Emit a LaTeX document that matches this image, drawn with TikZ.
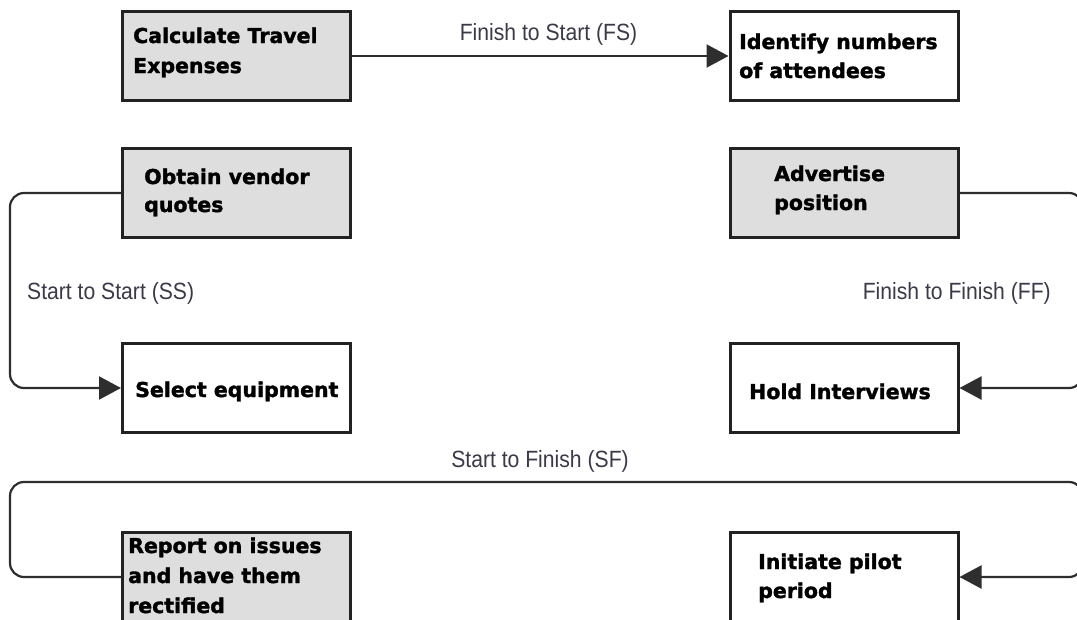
\documentclass[tikz,border=0pt]{standalone}
\usepackage{fontspec}
\usetikzlibrary{arrows.meta}
\newfontfamily\boxfont{DejaVu Sans}[BoldFeatures={FakeBold=1.6}]
\newfontfamily\linkfont{Liberation Sans}[FakeStretch=0.9]
\definecolor{boxgray}{HTML}{DEDEDE}
\definecolor{edge}{HTML}{222222}
\definecolor{wire}{HTML}{2E2E2E}
\definecolor{linktext}{HTML}{3A3A48}
\begin{document}
\begin{tikzpicture}[x=1pt,y=-1pt,
  taskbox/.style={draw=edge, line width=3pt, minimum width=228pt, minimum height=89pt, inner sep=0pt},
  shaded/.style={taskbox, fill=boxgray},
  plain/.style={taskbox, fill=white},
  tasktext/.style={anchor=base west, inner sep=0pt, text=black, font=\boxfont\bfseries\fontsize{20.5}{24}\selectfont},
  linklabel/.style={inner sep=0pt, text=linktext, font=\linkfont\fontsize{23.5}{26}\selectfont},
  wire/.style={draw=wire, line width=2.2pt, rounded corners=14pt},
  tip/.style={-{Triangle[length=22pt,width=23pt]}}
]
\useasboundingbox (0,0) rectangle (1077,619);
\clip (0,0) rectangle (1077,619);
\fill[white] (0,0) rectangle (1077,619);

% task boxes
\node[shaded] (calc)   at (236.5,56)  {};
\node[plain]  (ident)  at (844,56)    {};
\node[shaded] (obtain) at (236.5,193) {};
\node[shaded] (advert) at (844,193)   {};
\node[plain]  (select) at (236.5,388) {};
\node[plain]  (hold)   at (844,388)   {};
\node[shaded] (report) at (236.5,577) {};
\node[plain]  (pilot)  at (844,577)   {};

% task names
\node[tasktext] (calcA)   at (133,43)  {Calculate Travel};
\node[tasktext] (calcB)   at (133,73)  {Expenses};
\node[tasktext] (identA)  at (739,49)  {Identify numbers};
\node[tasktext] (identB)  at (739,78)  {of attendees};
\node[tasktext] (obtainA) at (144,184) {Obtain vendor};
\node[tasktext] (obtainB) at (144,212) {quotes};
\node[tasktext] (advertA) at (774,181) {Advertise};
\node[tasktext] (advertB) at (774,210) {position};
\node[tasktext] (selectA) at (135,397) {Select equipment};
\node[tasktext] (holdA)   at (749,399) {Hold Interviews};
\node[tasktext] (reportA) at (128,553) {Report on issues};
\node[tasktext] (reportB) at (128,583) {and have them};
\node[tasktext] (reportC) at (128,613) {rectified};
\node[tasktext] (pilotA)  at (758,569) {Initiate pilot};
\node[tasktext] (pilotB)  at (758,598) {period};

% bend points of the dependency lines
\coordinate (ssBend) at (10,290);
\coordinate (ffBend) at (1083,290);
\coordinate (sfLeft) at (10,482);
\coordinate (sfRight) at (1083,482);

% dependency lines
\draw[wire, tip] (calc.east) -- (ident.west);
\draw[wire, tip] (obtain.west) -| (ssBend) |- (select.west);
\draw[wire, tip] (advert.east) -| (ffBend) |- (hold.east);
\draw[wire, tip] (report.west) -| (sfLeft) -- (sfRight) |- (pilot.east);

% dependency labels
\node[linklabel, anchor=base] (fsLabel) at (548.5,40) {Finish to Start (FS)};
\node[linklabel, anchor=base west] (ssLabel) at (27,299) {Start to Start (SS)};
\node[linklabel, anchor=base east] (ffLabel) at (1051,299) {Finish to Finish (FF)};
\node[linklabel, anchor=base] (sfLabel) at (540,467) {Start to Finish (SF)};
\end{tikzpicture}
\end{document}
